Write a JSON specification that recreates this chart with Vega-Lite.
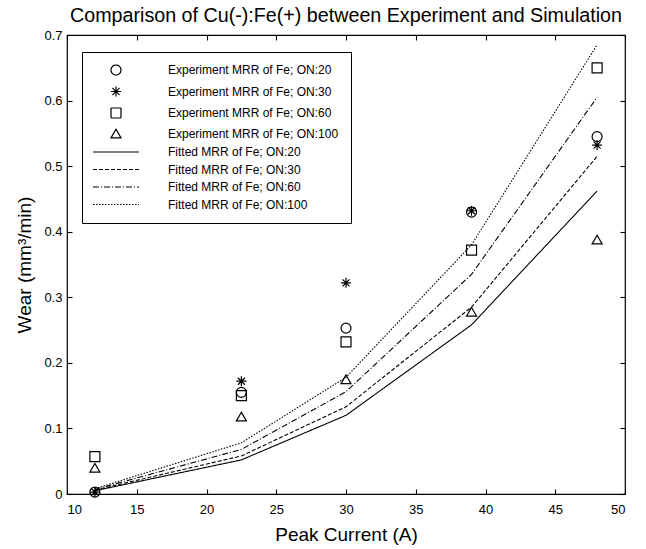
{
  "$schema": "https://vega.github.io/schema/vega-lite/v6.json",
  "width": 558,
  "height": 459,
  "autosize": "none",
  "padding": {"left": 67, "top": 35, "right": 21, "bottom": 55},
  "background": "white",
  "config": {
    "font": "Liberation Sans",
    "view": {"stroke": "black", "strokeWidth": 1.2},
    "axis": {"labelFont": "Liberation Sans", "titleFont": "Liberation Sans", "labelColor": "black", "titleColor": "black", "domain": false, "tickColor": "black", "tickWidth": 1.1, "grid": false, "titleFontWeight": "normal", "labelFontSize": 13, "titleFontSize": 19, "ticks": true, "tickSize": 5, "offset": -5},
    "legend": {"title": null, "orient": "none", "legendX": 15, "legendY": 17, "strokeColor": "black", "fillColor": "white", "padding": 12, "rowPadding": 5.5, "labelFontSize": 12, "labelFont": "Liberation Sans", "labelColor": "black", "labelOffset": 46, "symbolOffset": 16, "symbolStrokeColor": "black", "symbolStrokeWidth": 1.2, "symbolFillColor": "transparent", "symbolOpacity": 1, "symbolSize": 100, "labelLimit": 300}
  },
  "title": {"text": "Comparison of Cu(-):Fe(+) between Experiment and Simulation", "fontSize": 19.7, "fontWeight": "normal", "font": "Liberation Sans", "color": "black", "anchor": "middle", "offset": 3},
  "data": {"values": [
    {"current": 12, "wear": 0.003, "series": "Experiment MRR of Fe; ON:20", "kind": "exp"},
    {"current": 22.5, "wear": 0.155, "series": "Experiment MRR of Fe; ON:20", "kind": "exp"},
    {"current": 30, "wear": 0.253, "series": "Experiment MRR of Fe; ON:20", "kind": "exp"},
    {"current": 39, "wear": 0.43, "series": "Experiment MRR of Fe; ON:20", "kind": "exp"},
    {"current": 48, "wear": 0.545, "series": "Experiment MRR of Fe; ON:20", "kind": "exp"},
    {"current": 12, "wear": 0.003, "series": "Experiment MRR of Fe; ON:30", "kind": "exp"},
    {"current": 22.5, "wear": 0.172, "series": "Experiment MRR of Fe; ON:30", "kind": "exp"},
    {"current": 30, "wear": 0.322, "series": "Experiment MRR of Fe; ON:30", "kind": "exp"},
    {"current": 39, "wear": 0.432, "series": "Experiment MRR of Fe; ON:30", "kind": "exp"},
    {"current": 48, "wear": 0.532, "series": "Experiment MRR of Fe; ON:30", "kind": "exp"},
    {"current": 12, "wear": 0.057, "series": "Experiment MRR of Fe; ON:60", "kind": "exp"},
    {"current": 22.5, "wear": 0.15, "series": "Experiment MRR of Fe; ON:60", "kind": "exp"},
    {"current": 30, "wear": 0.232, "series": "Experiment MRR of Fe; ON:60", "kind": "exp"},
    {"current": 39, "wear": 0.372, "series": "Experiment MRR of Fe; ON:60", "kind": "exp"},
    {"current": 48, "wear": 0.65, "series": "Experiment MRR of Fe; ON:60", "kind": "exp"},
    {"current": 12, "wear": 0.04, "series": "Experiment MRR of Fe; ON:100", "kind": "exp"},
    {"current": 22.5, "wear": 0.118, "series": "Experiment MRR of Fe; ON:100", "kind": "exp"},
    {"current": 30, "wear": 0.175, "series": "Experiment MRR of Fe; ON:100", "kind": "exp"},
    {"current": 39, "wear": 0.278, "series": "Experiment MRR of Fe; ON:100", "kind": "exp"},
    {"current": 48, "wear": 0.388, "series": "Experiment MRR of Fe; ON:100", "kind": "exp"},
    {"current": 12, "wear": 0.005, "series": "Fitted MRR of Fe; ON:20", "kind": "fit"},
    {"current": 22.5, "wear": 0.052, "series": "Fitted MRR of Fe; ON:20", "kind": "fit"},
    {"current": 30, "wear": 0.12, "series": "Fitted MRR of Fe; ON:20", "kind": "fit"},
    {"current": 39, "wear": 0.258, "series": "Fitted MRR of Fe; ON:20", "kind": "fit"},
    {"current": 48, "wear": 0.462, "series": "Fitted MRR of Fe; ON:20", "kind": "fit"},
    {"current": 12, "wear": 0.006, "series": "Fitted MRR of Fe; ON:30", "kind": "fit"},
    {"current": 22.5, "wear": 0.058, "series": "Fitted MRR of Fe; ON:30", "kind": "fit"},
    {"current": 30, "wear": 0.133, "series": "Fitted MRR of Fe; ON:30", "kind": "fit"},
    {"current": 39, "wear": 0.285, "series": "Fitted MRR of Fe; ON:30", "kind": "fit"},
    {"current": 48, "wear": 0.515, "series": "Fitted MRR of Fe; ON:30", "kind": "fit"},
    {"current": 12, "wear": 0.007, "series": "Fitted MRR of Fe; ON:60", "kind": "fit"},
    {"current": 22.5, "wear": 0.068, "series": "Fitted MRR of Fe; ON:60", "kind": "fit"},
    {"current": 30, "wear": 0.156, "series": "Fitted MRR of Fe; ON:60", "kind": "fit"},
    {"current": 39, "wear": 0.335, "series": "Fitted MRR of Fe; ON:60", "kind": "fit"},
    {"current": 48, "wear": 0.605, "series": "Fitted MRR of Fe; ON:60", "kind": "fit"},
    {"current": 12, "wear": 0.008, "series": "Fitted MRR of Fe; ON:100", "kind": "fit"},
    {"current": 22.5, "wear": 0.078, "series": "Fitted MRR of Fe; ON:100", "kind": "fit"},
    {"current": 30, "wear": 0.178, "series": "Fitted MRR of Fe; ON:100", "kind": "fit"},
    {"current": 39, "wear": 0.38, "series": "Fitted MRR of Fe; ON:100", "kind": "fit"},
    {"current": 48, "wear": 0.685, "series": "Fitted MRR of Fe; ON:100", "kind": "fit"}
  ]},
  "resolve": {"axis": {"x": "independent", "y": "independent"}},
  "layer": [
    {
      "transform": [{"filter": "datum.kind === 'fit'"}],
      "mark": {"type": "line", "color": "black", "strokeWidth": 1.1},
      "encoding": {
        "x": {"field": "current", "type": "quantitative", "scale": {"domain": [10, 50], "nice": false}, "axis": {"title": "Peak Current (A)", "values": [10,15,20,25,30,35,40,45,50], "labelPadding": 9, "titlePadding": 9}},
        "y": {"field": "wear", "type": "quantitative", "scale": {"domain": [0, 0.7], "nice": false}, "axis": {"title": "Wear (mm³/min)", "values": [0,0.1,0.2,0.3,0.4,0.5,0.6,0.7], "format": ".1~f", "labelPadding": 5, "titlePadding": 9}},
        "detail": {"field": "series", "type": "nominal"},
        "strokeDash": {"field": "series", "type": "nominal",
          "scale": {
            "domain": ["Experiment MRR of Fe; ON:20", "Experiment MRR of Fe; ON:30", "Experiment MRR of Fe; ON:60", "Experiment MRR of Fe; ON:100", "Fitted MRR of Fe; ON:20", "Fitted MRR of Fe; ON:30", "Fitted MRR of Fe; ON:60", "Fitted MRR of Fe; ON:100"],
            "range": [[1,0],[1,0],[1,0],[1,0],[1,0],[4,2],[6,2,1,2],[1.5,1.5]]
          }}
      }
    },
    {
      "transform": [{"filter": "datum.kind === 'exp'"}],
      "mark": {"type": "point", "filled": false, "color": "black", "strokeWidth": 1.2, "opacity": 1, "size": 100},
      "encoding": {
        "x": {"field": "current", "type": "quantitative", "axis": {"orient": "top", "title": null, "labels": false, "values": [10,15,20,25,30,35,40,45,50]}},
        "y": {"field": "wear", "type": "quantitative", "axis": {"orient": "right", "title": null, "labels": false, "values": [0,0.1,0.2,0.3,0.4,0.5,0.6,0.7]}},
        "shape": {"field": "series", "type": "nominal",
          "scale": {
            "domain": ["Experiment MRR of Fe; ON:20", "Experiment MRR of Fe; ON:30", "Experiment MRR of Fe; ON:60", "Experiment MRR of Fe; ON:100", "Fitted MRR of Fe; ON:20", "Fitted MRR of Fe; ON:30", "Fitted MRR of Fe; ON:60", "Fitted MRR of Fe; ON:100"],
            "range": ["circle", "M-1,0L1,0M0,-1L0,1M-0.7,-0.7L0.7,0.7M-0.7,0.7L0.7,-0.7", "square", "triangle-up", "M-4.6,0L4.6,0", "M-4.6,0L4.6,0", "M-4.6,0L4.6,0", "M-4.6,0L4.6,0"]
          }}
      }
    }
  ]
}
